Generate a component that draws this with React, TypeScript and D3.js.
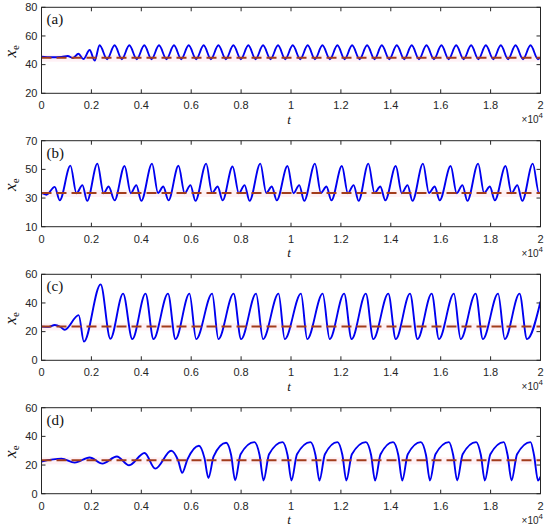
import React from 'react';
import * as d3 from 'd3';

const W = 550;
const H = 532;
const plotLeft = 41.5;
const plotRight = 540.5;
const panelTop = [7.3, 140.7, 274.3, 407.7];
const panelH = 86;

const tTicks = [0, 0.2, 0.4, 0.6, 0.8, 1, 1.2, 1.4, 1.6, 1.8, 2];
const tTickLabels = ['0', '0.2', '0.4', '0.6', '0.8', '1', '1.2', '1.4', '1.6', '1.8', '2'];

const panelLabels = ['(a)', '(b)', '(c)', '(d)'];
const yDomains: [number, number][] = [[20, 80], [10, 70], [0, 60], [0, 60]];
const yTicks = [[20, 40, 60, 80], [10, 30, 50, 70], [0, 20, 40, 60], [0, 20, 40, 60]];
const equilibrium = [44.8, 33.5, 23.6, 23.3];

// t in units of 10^4
const seriesA: [number, number][] = [
  [0, 45.6], [0.04, 45.1], [0.08, 45.3], [0.105, 46], [0.126, 44.6], [0.148, 47.6], [0.168, 43.9],
  [0.193, 50.2], [0.213, 42.8], [0.233, 53.5], [0.263, 43.8], [0.293, 53.5], [0.322, 43.8],
  [0.352, 53.5], [0.382, 43.8], [0.412, 53.5], [0.441, 43.8], [0.471, 53.5], [0.501, 43.8],
  [0.531, 53.5], [0.56, 43.8], [0.59, 53.5], [0.62, 43.8], [0.65, 53.5], [0.679, 43.8],
  [0.709, 53.5], [0.739, 43.8], [0.769, 53.5], [0.799, 43.8], [0.829, 53.5], [0.858, 43.8],
  [0.888, 53.5], [0.918, 43.8], [0.948, 53.5], [0.977, 43.8], [1.007, 53.5], [1.037, 43.8],
  [1.067, 53.5], [1.096, 43.8], [1.126, 53.5], [1.156, 43.8], [1.186, 53.5], [1.215, 43.8],
  [1.245, 53.5], [1.275, 43.8], [1.305, 53.5], [1.335, 43.8], [1.364, 53.5], [1.394, 43.8],
  [1.424, 53.5], [1.454, 43.8], [1.484, 53.5], [1.513, 43.8], [1.543, 53.5], [1.573, 43.8],
  [1.603, 53.5], [1.632, 43.8], [1.662, 53.5], [1.692, 43.8], [1.722, 53.5], [1.751, 43.8],
  [1.781, 53.5], [1.811, 43.8], [1.841, 53.5], [1.87, 43.8], [1.9, 53.5], [1.93, 43.8],
  [1.96, 53.5], [1.99, 43.8], [2.0, 45],
];

const seriesB: [number, number][] = [
  [0, 33.5], [0.02, 32.3], [0.053, 37.8], [0.073, 28.4],
  [0.116, 52.6], [0.14, 33.3], [0.164, 39], [0.183, 28],
  [0.224, 54], [0.249, 33.3], [0.269, 38], [0.293, 28.4],
  [0.333, 52.4], [0.358, 33.3], [0.38, 39], [0.4, 28],
  [0.443, 54], [0.467, 33.5], [0.488, 38], [0.509, 28.4],
  [0.549, 52.5], [0.574, 33.3], [0.597, 39], [0.617, 28],
  [0.66, 54], [0.684, 33.5], [0.706, 38], [0.726, 28.4],
  [0.766, 52], [0.791, 33.3], [0.814, 39], [0.834, 28],
  [0.877, 54], [0.901, 33.5], [0.923, 38], [0.943, 28.4],
  [0.986, 52.3], [1.01, 33.3], [1.033, 39], [1.053, 28],
  [1.096, 54], [1.12, 33.5], [1.142, 38], [1.162, 28.4],
  [1.204, 52.3], [1.228, 33.3], [1.251, 39], [1.271, 28],
  [1.31, 54], [1.335, 33.5], [1.358, 38], [1.378, 28.4],
  [1.42, 52.3], [1.444, 33.3], [1.467, 39], [1.487, 28],
  [1.529, 54], [1.553, 33.5], [1.576, 38], [1.596, 28.4],
  [1.64, 52.3], [1.664, 33.3], [1.687, 39], [1.707, 28],
  [1.75, 54], [1.774, 33.5], [1.797, 38], [1.817, 28.4],
  [1.86, 52.3], [1.884, 33.3], [1.907, 39], [1.927, 28],
  [1.969, 54], [1.994, 33.5], [2.0, 34],
];

const seriesC: [number, number][] = [
  [0, 23.5], [0.03, 23.3], [0.053, 24.6], [0.075, 23.4], [0.093, 21.3], [0.149, 31.5],
  [0.17, 13], [0.237, 53], [0.276, 15],
  [0.327, 46.5], [0.364, 14.8], [0.417, 46.5], [0.449, 14.8], [0.507, 46.5], [0.537, 14.8],
  [0.593, 46.5], [0.62, 14.8], [0.684, 46.5], [0.709, 14.8], [0.77, 46.5], [0.8, 14.8],
  [0.86, 46.5], [0.888, 14.8], [0.95, 46.5], [0.975, 14.8], [1.04, 46.5], [1.065, 14.8],
  [1.127, 46.5], [1.155, 14.8], [1.213, 46.5], [1.243, 14.8], [1.3, 46.5], [1.33, 14.8],
  [1.39, 46.5], [1.42, 14.8], [1.477, 46.5], [1.507, 14.8], [1.564, 46.5], [1.593, 14.8],
  [1.653, 46.5], [1.68, 14.8], [1.74, 46.5], [1.769, 14.8], [1.83, 46.5], [1.857, 14.8],
  [1.916, 46.5], [1.946, 14.8], [2.0, 41],
];

const seriesD: [number, number][] = [
  [0, 22.5], [0.08, 24.5], [0.133, 21.7], [0.193, 25.3], [0.244, 21], [0.302, 26],
  [0.351, 19.8], [0.413, 28.4], [0.456, 17.5], [0.52, 30], [0.548, 23], [0.564, 14.6],
  [0.585, 24], [0.631, 33.5], [0.653, 25], [0.669, 11], [0.69, 26],
  [0.74, 35.5], [0.76, 27], [0.776, 9.4], [0.798, 27.5],
  [0.853, 36], [0.874, 27], [0.89, 9.2], [0.912, 27.5],
  [0.966, 36], [0.986, 27], [1.002, 9.2], [1.024, 27.5],
  [1.078, 36], [1.098, 27], [1.114, 9.2], [1.136, 27.5],
  [1.186, 36], [1.206, 27], [1.222, 9.2], [1.244, 27.5],
  [1.3, 36], [1.321, 27], [1.337, 9.2], [1.359, 27.5],
  [1.409, 36], [1.43, 27], [1.446, 9.2], [1.468, 27.5],
  [1.52, 36], [1.541, 27], [1.557, 9.2], [1.579, 27.5],
  [1.633, 36], [1.65, 27], [1.666, 9.2], [1.688, 27.5],
  [1.742, 36], [1.761, 27], [1.777, 9.2], [1.799, 27.5],
  [1.853, 36], [1.868, 27], [1.884, 9.2], [1.906, 27.5],
  [1.96, 36], [1.974, 27], [1.99, 9.2], [2.0, 12],
];

const allSeries = [seriesA, seriesB, seriesC, seriesD];

const sans = 'Liberation Sans, Arial, Helvetica, sans-serif';
const serif = 'Liberation Serif, Times New Roman, serif';
const axisColor = '#262626';

const x = d3.scaleLinear().domain([0, 2]).range([plotLeft, plotRight]);

function Panel({ i }: { i: number }) {
  const top = panelTop[i];
  const bottom = top + panelH;
  const y = d3.scaleLinear().domain(yDomains[i]).range([bottom, top]);
  const line = d3
    .line<[number, number]>()
    .x((d) => x(d[0]))
    .y((d) => y(d[1]))
    .curve(d3.curveMonotoneX);
  const clipId = `clip-${i}`;
  const eqY = y(equilibrium[i]);
  return (
    <g>
      <defs>
        <clipPath id={clipId}>
          <rect x={plotLeft} y={top} width={plotRight - plotLeft} height={panelH} />
        </clipPath>
      </defs>
      <rect x={plotLeft} y={top} width={plotRight - plotLeft} height={panelH} fill="#fff" />
      <g clipPath={`url(#${clipId})`}>
        <rect x={plotLeft} y={eqY - 3} width={plotRight - plotLeft} height={7} fill="#fde7ef" opacity={0.6} />
        <path d={line(allSeries[i]) || ''} fill="none" stroke="#0000f0" strokeWidth={1.9} />
        <line x1={plotLeft} x2={plotRight} y1={eqY} y2={eqY} stroke="#a23c1c" strokeWidth={2} strokeDasharray="10,5" />
      </g>
      {tTicks.map((t, k) => (
        <g key={`xt${k}`}>
          <line x1={x(t)} x2={x(t)} y1={bottom} y2={bottom - 4} stroke={axisColor} />
          <line x1={x(t)} x2={x(t)} y1={top} y2={top + 4} stroke={axisColor} />
          <text x={x(t)} y={bottom + 16} textAnchor="middle" fontFamily={sans} fontSize={11} fill={axisColor}>
            {tTickLabels[k]}
          </text>
        </g>
      ))}
      {yTicks[i].map((v) => (
        <g key={`yt${v}`}>
          <line x1={plotLeft} x2={plotLeft + 4} y1={y(v)} y2={y(v)} stroke={axisColor} />
          <line x1={plotRight} x2={plotRight - 4} y1={y(v)} y2={y(v)} stroke={axisColor} />
          <text x={plotLeft - 4} y={y(v)} dy="0.35em" textAnchor="end" fontFamily={sans} fontSize={11} fill={axisColor}>
            {v}
          </text>
        </g>
      ))}
      <rect x={plotLeft} y={top} width={plotRight - plotLeft} height={panelH} fill="none" stroke={axisColor} strokeWidth={1} />
      <text x={plotLeft + 5} y={top + 17} fontFamily={serif} fontSize={15} fill="#111">
        {panelLabels[i]}
      </text>
      <text transform={`translate(16,${(top + bottom) / 2 + 1}) rotate(-90)`} textAnchor="middle" fontFamily={serif} fill="#111">
        <tspan fontStyle="italic" fontSize={17}>x</tspan>
        <tspan fontSize={11} dy={3}>e</tspan>
      </text>
      <text x={(plotLeft + plotRight) / 2 - 2} y={bottom + 30.5} textAnchor="middle" fontFamily={serif} fontStyle="italic" fontSize={13} fill="#111">
        t
      </text>
      <text x={543} y={bottom + 30} textAnchor="end" fontFamily={sans} fontSize={10} fill={axisColor}>
        ×10<tspan fontSize={8} dy={-5}>4</tspan>
      </text>
    </g>
  );
}

export default function App() {
  return (
    <svg width={W} height={H} style={{ position: 'absolute', left: 0, top: 0, background: '#fff' }}>
      <rect width={W} height={H} fill="#fff" />
      {[0, 1, 2, 3].map((i) => (
        <Panel key={i} i={i} />
      ))}
    </svg>
  );
}
